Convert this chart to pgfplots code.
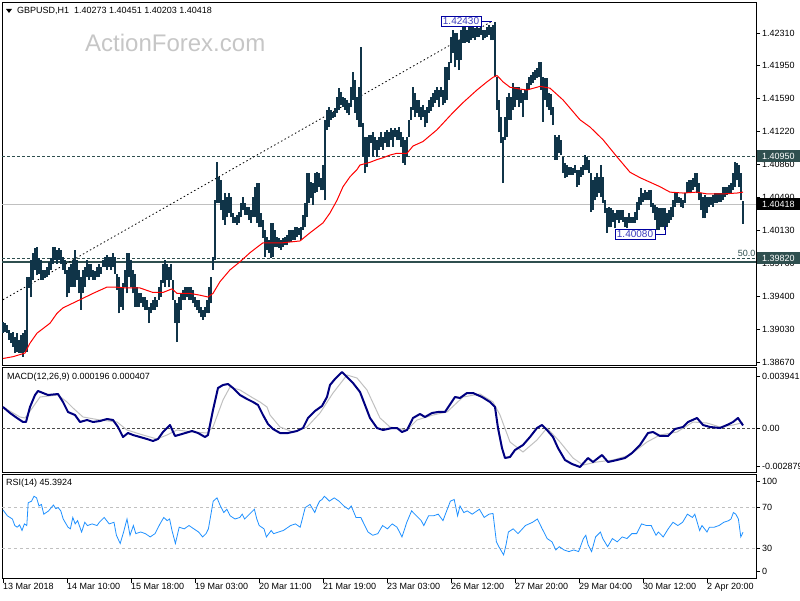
\documentclass[border=0pt]{standalone}
\usepackage{pgfplots}
\pgfplotsset{compat=1.18}
\usepackage{pgfplotstable}
\usepackage{fontspec}
\setmainfont{Liberation Sans}
\definecolor{barc}{RGB}{16,52,72}
\definecolor{dslate}{RGB}{47,79,79}
\definecolor{navyc}{RGB}{0,0,128}
\definecolor{silverc}{RGB}{192,192,192}
\definecolor{dodger}{RGB}{30,144,255}
\definecolor{lblue}{RGB}{0,0,160}
\definecolor{ltext}{RGB}{60,60,190}
\definecolor{wm}{RGB}{198,198,198}
\newcommand{\lf}{\fontsize{9}{10}\selectfont}

\pgfplotstableread{
i lo hi
0 1.3899 1.3911
1 1.3900 1.3910
2 1.3899 1.3908
3 1.3892 1.3903
4 1.3888 1.3899
5 1.3884 1.3900
6 1.3877 1.3895
7 1.3878 1.3899
8 1.3877 1.3892
9 1.3877 1.3897
10 1.3873 1.3899
11 1.3878 1.3903
12 1.3878 1.3961
13 1.3949 1.3961
14 1.3939 1.3980
15 1.3958 1.3988
16 1.3969 1.3993
17 1.3963 1.3994
18 1.3965 1.3982
19 1.3958 1.3980
20 1.3958 1.3969
21 1.3960 1.3969
22 1.3961 1.3972
23 1.3963 1.3978
24 1.3969 1.3982
25 1.3976 1.3994
26 1.3980 1.3994
27 1.3976 1.3991
28 1.3980 1.3993
29 1.3976 1.3991
30 1.3969 1.3983
31 1.3965 1.3980
32 1.3939 1.3969
33 1.3943 1.3972
34 1.3950 1.3976
35 1.3950 1.3980
36 1.3950 1.3991
37 1.3958 1.3980
38 1.3943 1.3969
39 1.3925 1.3961
40 1.3943 1.3969
41 1.3950 1.3972
42 1.3961 1.3980
43 1.3958 1.3976
44 1.3961 1.3976
45 1.3958 1.3969
46 1.3958 1.3968
47 1.3961 1.3972
48 1.3961 1.3976
49 1.3965 1.3972
50 1.3972 1.3980
51 1.3972 1.3983
52 1.3969 1.3985
53 1.3972 1.3983
54 1.3969 1.3983
55 1.3972 1.3988
56 1.3965 1.3983
57 1.3947 1.3965
58 1.3921 1.3961
59 1.3928 1.3950
60 1.3925 1.3954
61 1.3950 1.3969
62 1.3943 1.3988
63 1.3961 1.3988
64 1.3950 1.3980
65 1.3943 1.3969
66 1.3928 1.3965
67 1.3928 1.3950
68 1.3928 1.3943
69 1.3932 1.3943
70 1.3928 1.3939
71 1.3925 1.3939
72 1.3925 1.3936
73 1.3910 1.3928
74 1.3921 1.3932
75 1.3925 1.3936
76 1.3925 1.3939
77 1.3928 1.3936
78 1.3936 1.3950
79 1.3939 1.3958
80 1.3954 1.3976
81 1.3950 1.3980
82 1.3958 1.3976
83 1.3950 1.3972
84 1.3958 1.3976
85 1.3936 1.3958
86 1.3910 1.3936
87 1.3889 1.3932
88 1.3910 1.3939
89 1.3925 1.3943
90 1.3936 1.3947
91 1.3936 1.3950
92 1.3939 1.3950
93 1.3936 1.3950
94 1.3936 1.3950
95 1.3932 1.3947
96 1.3928 1.3939
97 1.3925 1.3936
98 1.3921 1.3936
99 1.3917 1.3928
100 1.3914 1.3925
101 1.3917 1.3928
102 1.3921 1.3936
103 1.3921 1.3950
104 1.3932 1.3961
105 1.3969 1.3983
106 1.3980 1.4046
107 1.4043 1.4088
108 1.4043 1.4072
109 1.4035 1.4068
110 1.4024 1.4046
111 1.4019 1.4054
112 1.4027 1.4050
113 1.4032 1.4054
114 1.4027 1.4050
115 1.4021 1.4032
116 1.4021 1.4027
117 1.4019 1.4030
118 1.4021 1.4033
119 1.4027 1.4043
120 1.4035 1.4050
121 1.4030 1.4043
122 1.4030 1.4039
123 1.4024 1.4039
124 1.4021 1.4035
125 1.4027 1.4050
126 1.4027 1.4061
127 1.4021 1.4065
128 1.4016 1.4065
129 1.4016 1.4032
130 1.4004 1.4024
131 1.3983 1.4013
132 1.3991 1.4005
133 1.3988 1.4002
134 1.3982 1.4021
135 1.3983 1.4021
136 1.3994 1.4013
137 1.3994 1.4005
138 1.3993 1.4004
139 1.3991 1.4002
140 1.3994 1.4004
141 1.3996 1.4005
142 1.3996 1.4008
143 1.4000 1.4013
144 1.4000 1.4013
145 1.4002 1.4013
146 1.4002 1.4016
147 1.4005 1.4016
148 1.4008 1.4015
149 1.4002 1.4016
150 1.4013 1.4030
151 1.4016 1.4043
152 1.4027 1.4076
153 1.4043 1.4076
154 1.4048 1.4066
155 1.4041 1.4065
156 1.4054 1.4076
157 1.4055 1.4077
158 1.4061 1.4076
159 1.4057 1.4071
160 1.4057 1.4085
161 1.4046 1.4135
162 1.4124 1.4146
163 1.4127 1.4149
164 1.4135 1.4146
165 1.4137 1.4144
166 1.4138 1.4148
167 1.4143 1.4160
168 1.4146 1.4170
169 1.4151 1.4166
170 1.4149 1.4160
171 1.4146 1.4159
172 1.4143 1.4157
173 1.4140 1.4154
174 1.4149 1.4171
175 1.4157 1.4188
176 1.4143 1.4179
177 1.4135 1.4160
178 1.4127 1.4171
179 1.4127 1.4215
180 1.4094 1.4131
181 1.4076 1.4116
182 1.4083 1.4116
183 1.4094 1.4118
184 1.4109 1.4118
185 1.4094 1.4121
186 1.4102 1.4116
187 1.4094 1.4113
188 1.4102 1.4116
189 1.4105 1.4121
190 1.4102 1.4116
191 1.4109 1.4122
192 1.4105 1.4124
193 1.4105 1.4122
194 1.4113 1.4126
195 1.4105 1.4124
196 1.4116 1.4126
197 1.4113 1.4124
198 1.4113 1.4127
199 1.4105 1.4122
200 1.4087 1.4116
201 1.4085 1.4113
202 1.4094 1.4116
203 1.4116 1.4135
204 1.4135 1.4149
205 1.4146 1.4171
206 1.4138 1.4165
207 1.4143 1.4157
208 1.4138 1.4157
209 1.4135 1.4149
210 1.4138 1.4151
211 1.4127 1.4146
212 1.4131 1.4149
213 1.4143 1.4157
214 1.4145 1.4160
215 1.4149 1.4165
216 1.4154 1.4168
217 1.4157 1.4171
218 1.4149 1.4168
219 1.4160 1.4171
220 1.4151 1.4168
221 1.4154 1.4193
222 1.4157 1.4193
223 1.4179 1.4199
224 1.4198 1.4227
225 1.4209 1.4234
226 1.4193 1.4231
227 1.4201 1.4231
228 1.4190 1.4223
229 1.4201 1.4234
230 1.4220 1.4238
231 1.4220 1.4238
232 1.4221 1.4234
233 1.4220 1.4238
234 1.4223 1.4238
235 1.4225 1.4238
236 1.4223 1.4237
237 1.4227 1.4238
238 1.4227 1.4237
239 1.4229 1.4238
240 1.4223 1.4234
241 1.4225 1.4234
242 1.4227 1.4238
243 1.4229 1.4240
244 1.4223 1.4238
245 1.4223 1.4240
246 1.4182 1.4243
247 1.4146 1.4182
248 1.4121 1.4157
249 1.4109 1.4138
250 1.4065 1.4116
251 1.4113 1.4138
252 1.4116 1.4160
253 1.4135 1.4165
254 1.4135 1.4160
255 1.4146 1.4176
256 1.4149 1.4171
257 1.4157 1.4171
258 1.4149 1.4171
259 1.4154 1.4168
260 1.4138 1.4165
261 1.4157 1.4168
262 1.4157 1.4176
263 1.4168 1.4182
264 1.4174 1.4185
265 1.4176 1.4188
266 1.4179 1.4190
267 1.4181 1.4192
268 1.4182 1.4199
269 1.4168 1.4199
270 1.4133 1.4182
271 1.4157 1.4181
272 1.4149 1.4181
273 1.4146 1.4165
274 1.4140 1.4163
275 1.4129 1.4149
276 1.4091 1.4118
277 1.4091 1.4116
278 1.4098 1.4118
279 1.4096 1.4113
280 1.4076 1.4094
281 1.4071 1.4087
282 1.4072 1.4085
283 1.4074 1.4083
284 1.4074 1.4083
285 1.4074 1.4082
286 1.4076 1.4085
287 1.4061 1.4080
288 1.4063 1.4080
289 1.4072 1.4083
290 1.4074 1.4085
291 1.4080 1.4096
292 1.4080 1.4094
293 1.4076 1.4091
294 1.4033 1.4076
295 1.4035 1.4068
296 1.4046 1.4072
297 1.4050 1.4076
298 1.4054 1.4072
299 1.4050 1.4085
300 1.4043 1.4072
301 1.4032 1.4046
302 1.4010 1.4037
303 1.4016 1.4039
304 1.4016 1.4037
305 1.4022 1.4035
306 1.4015 1.4032
307 1.4024 1.4035
308 1.4021 1.4035
309 1.4024 1.4035
310 1.4022 1.4035
311 1.4016 1.4027
312 1.4015 1.4027
313 1.4021 1.4032
314 1.4021 1.4027
315 1.4021 1.4027
316 1.4021 1.4033
317 1.4024 1.4044
318 1.4035 1.4050
319 1.4041 1.4060
320 1.4044 1.4054
321 1.4046 1.4057
322 1.4046 1.4055
323 1.4046 1.4057
324 1.4039 1.4057
325 1.4032 1.4043
326 1.4024 1.4041
327 1.4013 1.4039
328 1.4013 1.4037
329 1.4016 1.4037
330 1.4016 1.4037
331 1.4013 1.4037
332 1.4016 1.4032
333 1.4021 1.4035
334 1.4024 1.4039
335 1.4027 1.4046
336 1.4039 1.4055
337 1.4043 1.4054
338 1.4043 1.4050
339 1.4039 1.4048
340 1.4037 1.4046
341 1.4043 1.4054
342 1.4054 1.4066
343 1.4054 1.4068
344 1.4054 1.4068
345 1.4057 1.4071
346 1.4061 1.4076
347 1.4054 1.4076
348 1.4046 1.4065
349 1.4035 1.4054
350 1.4026 1.4050
351 1.4026 1.4052
352 1.4032 1.4050
353 1.4039 1.4050
354 1.4041 1.4050
355 1.4039 1.4052
356 1.4043 1.4054
357 1.4043 1.4054
358 1.4044 1.4054
359 1.4044 1.4054
360 1.4046 1.4061
361 1.4050 1.4061
362 1.4052 1.4061
363 1.4054 1.4063
364 1.4054 1.4065
365 1.4057 1.4076
366 1.4061 1.4088
367 1.4068 1.4087
368 1.4061 1.4085
369 1.4046 1.4076
370 1.40203 1.40451
}\bars

\pgfplotstableread{
i p
0 1.3871
5 1.3873
11 1.3877
13.5 1.3888
17 1.3899
23.5 1.3910
27 1.3921
30 1.3927
38.5 1.3936
45 1.3943
52 1.3950
56 1.3950
62 1.3949
68.5 1.3949
75 1.3944
80 1.3944
84.5 1.3948
87 1.3943
93.5 1.3943
98.5 1.3941
102.5 1.3939
105 1.3943
108.5 1.3956
113.5 1.3969
118.5 1.3978
123.5 1.3988
127 1.3994
130 1.3999
140 1.3999
148.5 1.4001
153.5 1.4010
160 1.4021
163.5 1.4032
167 1.4046
170 1.4061
173.5 1.4072
177 1.4080
178.5 1.4085
183.5 1.4088
187 1.4091
190 1.4093
193.5 1.4096
197 1.4098
202 1.4098
205 1.4106
210 1.4111
217 1.4124
225 1.4143
230 1.4154
237 1.4168
242 1.4177
245 1.4182
247 1.4184
250 1.4177
253.5 1.4171
258.5 1.4169
262 1.4168
267 1.4171
268.5 1.4172
273.5 1.4170
280 1.4157
288.5 1.4135
293.5 1.4127
300 1.4113
307 1.4094
313.5 1.4077
318.5 1.4071
323.5 1.4066
328.5 1.4061
333.5 1.4055
340 1.4054
347 1.4055
352 1.4053
360 1.4053
367 1.4054
370 1.4055
}\ma

\pgfplotstableread{
i v
0 0.001592
3.5 0.001137
7 0.000758
10 0.000455
11.5 0.000455
13.5 0.001592
16 0.002501
17.5 0.002805
20 0.002653
22.5 0.002501
27.5 0.002577
30 0.001971
32.5 0.001213
36 0.000985
38.5 0.000455
42 0.000606
45 0.000455
48.5 0.000531
52 0.000682
55 0.000606
57.5 0.000076
60 -0.000682
62.5 -0.000379
65 -0.000531
68.5 -0.000682
72 -0.000834
75 -0.000985
77.5 -0.000834
80 -0.000303
83.5 0.000227
86 -0.000606
89.5 -0.000455
94.5 -0.000227
97.5 -0.000379
101 -0.000682
102.5 -0.000531
105 0.001364
107.5 0.003032
110 0.003259
112.5 0.003335
115 0.003032
118.5 0.002501
122 0.002198
125 0.001971
127.5 0.001743
130 0.000985
132.5 0.000303
135 -0.000076
138.5 -0.000379
142.5 -0.000379
147 -0.000227
150 0.000000
152.5 0.000758
156 0.001289
159.5 0.001668
162 0.002350
163.5 0.003259
166 0.003714
169.5 0.004245
172 0.003866
175 0.003411
178.5 0.002729
181 0.001743
183.5 0.000758
187 0.000000
190 -0.000152
194.5 0.000000
197 0.000000
199.5 -0.000303
202 -0.000152
205 0.000758
208.5 0.001061
211 0.000834
214.5 0.001137
217.5 0.001213
221 0.001213
226 0.002350
228.5 0.002274
232 0.002653
235 0.002653
239.5 0.002350
243.5 0.001971
246 0.001592
247.5 0.000000
249.5 -0.001516
251 -0.002274
253.5 -0.002198
256 -0.001668
260 -0.001289
263.5 -0.000682
267 0.000000
269.5 0.000227
272 -0.000152
275 -0.000682
277.5 -0.001516
281 -0.002426
284.5 -0.002729
288.5 -0.002956
292.5 -0.002274
295 -0.002577
299.5 -0.002047
302.5 -0.002577
307 -0.002426
311 -0.002274
314.5 -0.001895
318.5 -0.001289
322.5 -0.000379
325 -0.000303
328.5 -0.000606
332.5 -0.000606
336 -0.000076
340 0.000076
342.5 0.000455
347 0.000758
350 0.000227
353.5 0.000076
358.5 0.000000
362 0.000227
365 0.000455
367.5 0.000758
370 0.000196
}\macd

\pgfplotstableread{
i v
0 0.001592
8.5 0.000834
11 0.000758
15 0.001592
18.5 0.002350
27.5 0.002501
32 0.001971
35 0.001516
40 0.000834
48.5 0.000606
57 0.000455
62 -0.000152
70 -0.000531
77 -0.000834
82 -0.000531
87 -0.000152
95 -0.000303
102 -0.000379
105 0.000076
110 0.002122
113.5 0.003108
118.5 0.002880
125 0.002274
128.5 0.001971
132 0.001592
133.5 0.000985
138.5 0.000076
145 -0.000303
152 0.000076
158.5 0.001137
165 0.002653
172 0.004017
177 0.003790
182 0.002880
188.5 0.000758
193.5 0.000076
202 -0.000152
207 0.000606
215 0.000985
222 0.001213
230 0.002350
238.5 0.002577
245 0.001971
248.5 0.000985
253.5 -0.001061
260 -0.001819
267 -0.000910
272 0.000000
278.5 -0.001061
285 -0.002274
290 -0.002805
297 -0.002577
305 -0.002426
313.5 -0.002047
322 -0.001061
328.5 -0.000531
337 -0.000303
345 0.000455
352 0.000379
358.5 0.000076
365 0.000227
370 0.000407
}\sig

\pgfplotstableread{
i r
0 67.1
2.2 61.4
4.7 58.3
5.9 51.9
7.1 50.3
8.3 52.5
9.5 47.1
10.7 53.5
11.9 51.9
12.6 74.1
14.3 75.7
15.5 80.5
16.8 78.9
18 71.0
19.2 72.5
20.4 63.0
22.8 66.2
25.2 71.9
26.4 68.4
27.6 69.4
28.9 66.2
30.1 58.3
32.5 50.3
33.7 48.7
34.9 59.8
36.1 53.5
37.3 56.7
39.3 45.6
40.9 55.1
42.2 51.9
44.6 53.5
47 51.9
48.2 55.1
50.6 59.8
53.1 53.5
55.5 55.1
56.7 42.4
58.6 34.4
60.3 45.6
62 58.3
63.5 42.4
65.2 51.9
66.4 44.0
68.8 45.6
71.2 44.0
73.6 40.8
76 44.0
78.5 53.5
80.4 59.8
82.1 56.7
83.3 58.3
84.5 47.1
86.2 34.4
88.1 50.3
90.6 48.7
93 51.9
95.4 48.7
97.8 45.6
99.8 40.8
101.5 44.0
102.7 48.7
105.1 75.7
107 78.9
108.7 71.0
110.4 64.6
111.9 67.8
113.6 61.4
116 58.3
118.4 59.8
119.6 63.0
120.8 58.3
123.2 63.0
125.7 67.8
126.9 58.3
128.1 51.9
130.5 48.7
131.7 40.8
134.1 47.1
135.3 44.0
137.8 45.6
140.2 47.1
142.6 50.3
143.8 51.9
146.2 53.5
148.6 50.3
151.1 69.4
153.5 72.5
155.9 64.6
157.1 71.0
158.3 75.7
159.5 77.3
160.7 80.5
163.2 75.7
165.6 78.9
168 75.7
170.4 71.0
172.8 67.8
174.1 71.0
176.5 59.8
178.9 59.8
182.5 45.6
184.9 42.4
187.4 44.0
189.8 51.9
192.2 48.7
194.6 53.5
197 50.3
199.5 40.8
201.9 55.1
204.3 66.2
206.7 61.4
209.1 56.7
210.4 51.9
212.8 61.4
215.2 61.4
217.6 63.0
220 56.7
221.2 63.0
223.7 75.7
225.6 77.3
227.3 61.4
228.5 71.0
230.4 64.6
232.1 66.2
234.6 63.0
237 66.2
238.2 67.8
240.6 59.8
243 63.0
245 63.7
246.7 36.0
247.9 31.3
250.3 23.3
251.5 32.9
252.7 45.6
255.1 48.7
257.5 44.0
261.2 51.9
264.8 55.1
267.2 58.3
269.6 48.7
272.1 39.2
274.5 36.0
276.4 28.1
278.1 31.3
280.5 28.1
283 26.5
285.4 28.1
287.8 26.5
290.2 39.2
291.4 42.4
292.6 32.9
294.3 26.5
296.3 40.8
298.7 45.6
299.9 39.2
302.3 31.3
304.7 39.2
307.1 36.0
309.6 40.8
312 39.2
314.4 44.0
316.8 44.0
319.3 53.5
321.7 51.9
324.1 51.9
326.5 42.4
327.7 45.6
330.1 40.8
332.6 48.7
335 55.1
337.4 51.9
339.8 55.1
342.2 63.0
344.7 59.8
345.9 63.0
347.1 55.1
348.3 47.1
349.5 51.9
352 45.6
353.2 50.3
355.6 50.3
358 51.9
360.4 55.1
362.8 56.7
364 58.3
365.2 64.6
366.4 63.0
367.7 58.3
368.9 40.8
370 45.39
}\rsi

\pgfplotsset{mtpanel/.style={
  scale only axis, width=754pt, xmin=-0.5, xmax=376.5,
  anchor=south west,
  axis line style={black, line width=0.8pt},
  tick align=outside, major tick length=4pt,
  tick style={black, line width=0.8pt},
  ytick pos=right, yticklabel pos=right,
  scaled y ticks=false,
  yticklabel style={font=\lf, anchor=west, inner sep=0pt, xshift=2pt},
  xtick=\empty}}

\begin{document}
\begin{tikzpicture}
\path[use as bounding box] (0,0) rectangle (800pt,600pt);

% ---------- main price panel ----------
\begin{axis}[mtpanel, at={(2pt,235pt)}, height=363pt,
  ymin=1.38638, ymax=1.42653,
  ytick={1.42310,1.41950,1.41590,1.41220,1.40860,1.40490,1.40130,1.39760,1.39400,1.39030,1.38670},
  yticklabels={1.42310,1.41950,1.41590,1.41220,1.40860,1.40490,1.40130,1.39760,1.39400,1.39030,1.38670},
  clip mode=individual]
\addplot[silverc, line width=1pt] coordinates {(-0.5,1.40418) (376.5,1.40418)};
\addplot[dslate, line width=0.8pt, dash pattern=on 3pt off 2pt] coordinates {(-0.5,1.40950) (376.5,1.40950)};
\addplot[dslate, line width=0.8pt, dash pattern=on 3pt off 2pt] coordinates {(-0.5,1.39820) (376.5,1.39820)};
\addplot[dslate, line width=1.3pt] coordinates {(-0.5,1.39778) (376.5,1.39778)};
\addplot[black, line width=0.8pt, dash pattern=on 1.5pt off 2.5pt] coordinates {(0,1.3936) (244.5,1.4244)};
\addplot[draw=none, mark=none, error bars/.cd, y dir=plus, y explicit, error mark=none,
  error bar style={draw=barc, line width=1.3pt, solid}]
  table[x=i, y=lo, y error expr=\thisrow{hi}-\thisrow{lo}] {\bars};
\addplot[red, line width=1pt] table[x=i, y=p] {\ma};
% annotations
\draw[lblue, line width=0.8pt] (axis cs:239.5,1.42437) -- (axis cs:244.5,1.42437);
\node[draw=lblue, fill=white, text=ltext, line width=0.8pt, inner xsep=2pt, inner ysep=1.5pt,
  font=\fontsize{10}{11}\selectfont] at (axis cs:229,1.42437) {1.42430};
\draw[lblue, line width=0.8pt] (axis cs:326.5,1.40081) -- (axis cs:331,1.40081) -- (axis cs:331,1.4017);
\node[draw=lblue, fill=white, text=ltext, line width=0.8pt, inner xsep=2pt, inner ysep=1.5pt,
  font=\fontsize{10}{11}\selectfont] at (axis cs:316,1.40081) {1.40080};
\node[anchor=south east, inner sep=0.5pt, text=dslate, font=\lf] at (axis cs:376.5,1.39825) {50.0};
% price boxes on the scale
\node[anchor=west, fill=dslate, text=white, font=\lf, inner xsep=5pt, inner ysep=0pt,
  minimum height=12pt, xshift=1pt] at (axis cs:376.5,1.40950) {1.40950};
\node[anchor=west, fill=black, text=white, font=\lf, inner xsep=5pt, inner ysep=0pt,
  minimum height=12pt, xshift=1pt] at (axis cs:376.5,1.40418) {1.40418};
\node[anchor=west, fill=dslate, text=white, font=\lf, inner xsep=5pt, inner ysep=0pt,
  minimum height=12pt, xshift=1pt] at (axis cs:376.5,1.39820) {1.39820};
\end{axis}

% ---------- MACD panel ----------
\begin{axis}[mtpanel, at={(2pt,128pt)}, height=104.5pt,
  ymin=-0.003335, ymax=0.004586,
  ytick={-0.002879,0,0.003941},
  yticklabels={-0.002879,0.00,0.003941}]
\addplot[black!70, line width=0.8pt, dash pattern=on 3pt off 2pt] coordinates {(-0.5,0) (376.5,0)};
\addplot[silverc, line width=1pt] table[x=i, y=v] {\sig};
\addplot[navyc, line width=2pt, line join=round] table[x=i, y=v] {\macd};
\end{axis}

% ---------- RSI panel ----------
\begin{axis}[mtpanel, at={(2pt,21.5pt)}, height=104pt,
  ymin=0.24, ymax=101.7,
  ytick={6.9,30,70,94.7},
  yticklabels={0,30,70,100},
  xtick={0,32,64,96,128,160,192,224,256,288,320,352},
  xticklabels={13 Mar 2018,14 Mar 10:00,15 Mar 18:00,19 Mar 03:00,20 Mar 11:00,21 Mar 19:00,23 Mar 03:00,26 Mar 12:00,27 Mar 20:00,29 Mar 04:00,30 Mar 12:00,2 Apr 20:00},
  xtick pos=left,
  xticklabel style={font=\lf, anchor=north west, inner sep=0pt, yshift=-1pt}]
\addplot[silverc, line width=0.8pt, dash pattern=on 3pt off 3pt] coordinates {(-0.5,70) (376.5,70)};
\addplot[silverc, line width=0.8pt, dash pattern=on 3pt off 3pt] coordinates {(-0.5,30) (376.5,30)};
\addplot[dodger, line width=0.8pt] table[x=i, y=r] {\rsi};
\end{axis}

% ---------- texts ----------
\fill[black] (6pt,591pt) -- (12pt,591pt) -- (9pt,587pt) -- cycle;
\node[anchor=west, inner sep=0pt, font=\lf] at (17pt,589pt) {GBPUSD,H1\ \ 1.40273 1.40451 1.40203 1.40418};
\node[anchor=west, inner sep=0pt, text=wm, font=\fontsize{24}{24}\selectfont] at (85pt,557pt) {ActionForex.com};
\node[anchor=west, inner sep=0pt, font=\lf] at (7pt,223pt) {MACD(12,26,9) 0.000196 0.000407};
\node[anchor=west, inner sep=0pt, font=\lf] at (6pt,117pt) {RSI(14) 45.3924};
\end{tikzpicture}
\end{document}
